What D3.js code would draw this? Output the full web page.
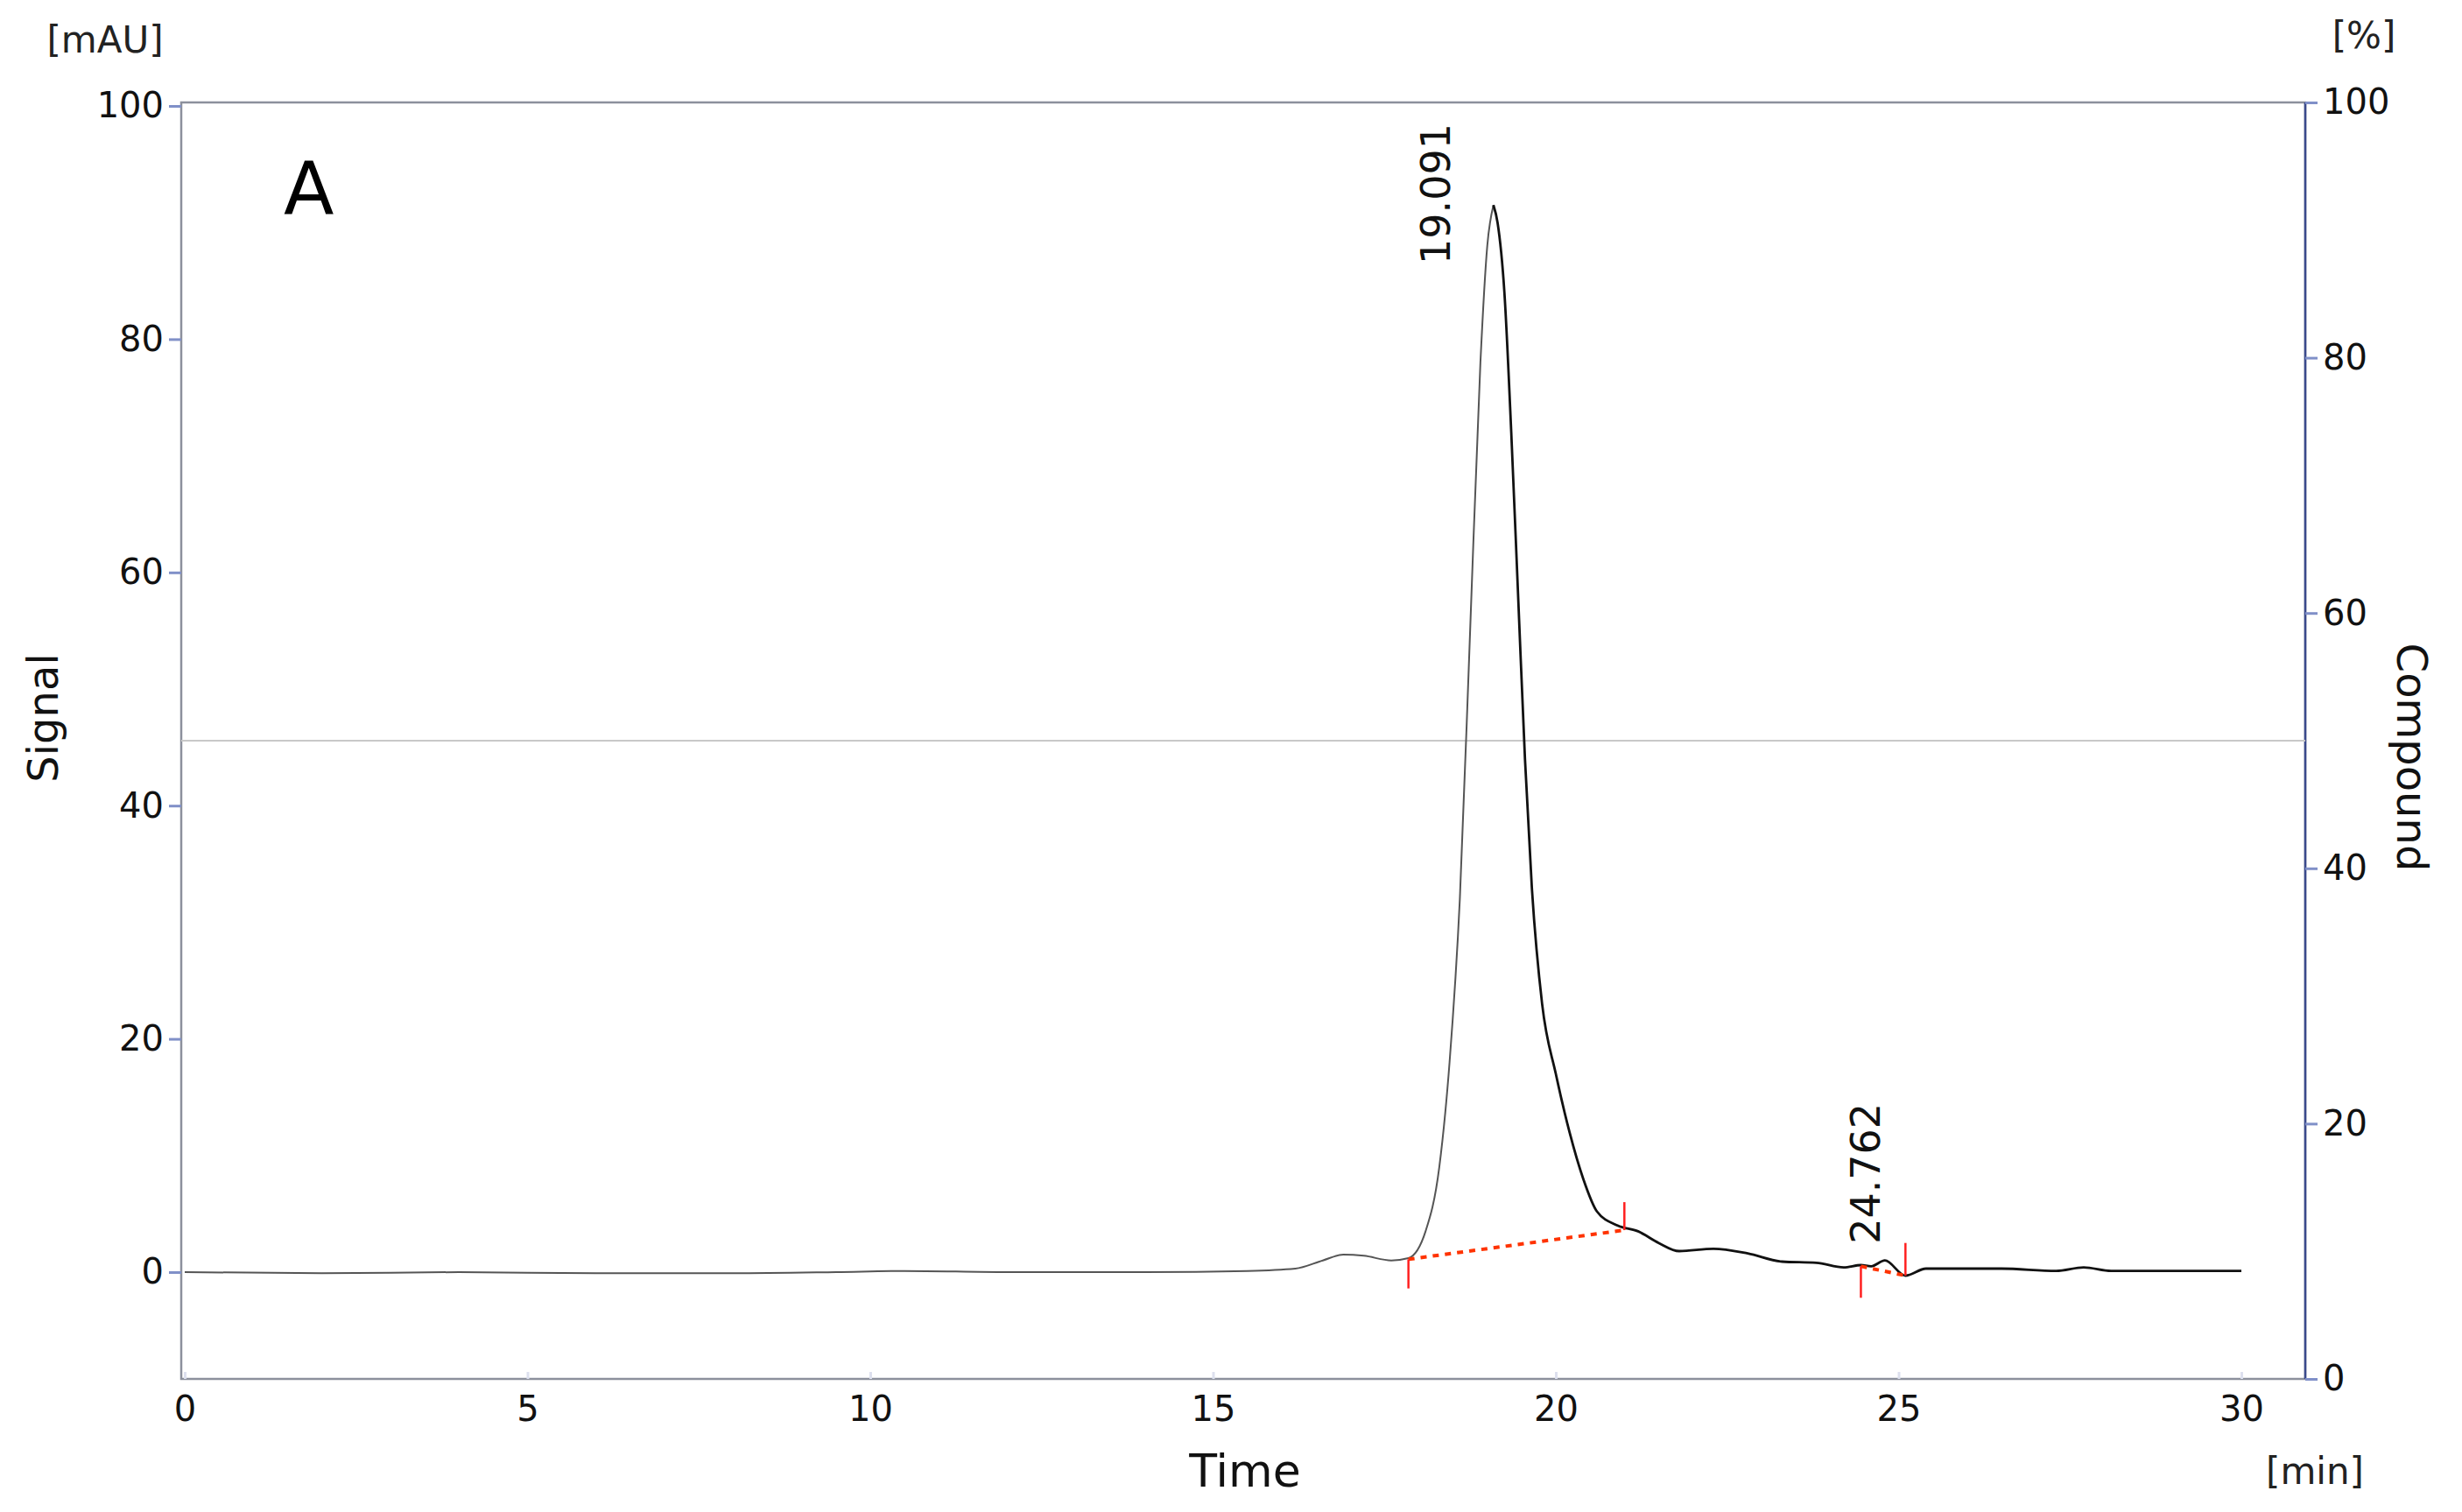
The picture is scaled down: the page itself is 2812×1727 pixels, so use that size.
<!DOCTYPE html>
<head>
  <meta charset="utf-8">
  <script src="https://d3js.org/d3.v7.min.js"></script>
  <style>
    body { margin: 0; background: #fff; }
    text { font-family: "DejaVu Sans", Verdana, sans-serif; }
  </style>
</head>
<body>
  <svg id="chart" width="2812" height="1727"></svg>
  <script>
    // chromatogram trace: time [min], signal [mAU]
    const times = [0, 2, 4, 6, 8, 9.5, 10.5, 12, 14, 15.5, 16.2, 16.6, 16.9, 17.2, 17.6, 17.85, 18.1, 18.3, 18.45, 18.6, 18.75, 18.9, 19.0, 19.09, 19.15, 19.25, 19.35, 19.45, 19.55, 19.65, 19.8, 20.0, 20.2, 20.4, 20.6, 20.9, 21.2, 21.5, 21.8, 22.3, 22.8, 23.3, 23.8, 24.2, 24.45, 24.6, 24.8, 25.1, 25.4, 26.5, 27.3, 27.7, 28.1, 30];
    const signal = [0, -0.1, 0, -0.1, -0.1, 0, 0.1, 0, 0, 0.1, 0.3, 1.0, 1.5, 1.4, 1.0, 1.2, 3.5, 9, 18, 32, 55, 78, 88, 91.5, 90, 84, 72, 58, 44, 33, 23, 17, 12, 8, 5.2, 4.0, 3.5, 2.5, 1.8, 2.0, 1.6, 0.9, 0.8, 0.4, 0.6, 0.5, 1.0, -0.3, 0.3, 0.3, 0.1, 0.4, 0.1, 0.1];
    const peakLabels = [{t: 19.091, x: 18.45, y: 98.5}, {t: 24.762, x: 24.72, y: 14.5}];
    const baselines = [[[17.85, 1.1], [21.0, 3.6]], [[24.45, 0.5], [25.1, -0.3]]];
    const marks = [[17.85, 1.1, -1.4], [21.0, 3.6, 6.0], [24.45, 0.5, -2.2], [25.1, -0.3, 2.5]];
    const xTicks = [0, 5, 10, 15, 20, 25, 30];
    const yTicks = [0, 20, 40, 60, 80, 100];
    const rTicks = [0, 20, 40, 60, 80, 100];

    const svg = d3.select("#chart");
    const L = 207, R = 2633, T = 117, B = 1575;
    const x = d3.scaleLinear().domain([0, 30]).range([211, 2560]);
    const y = d3.scaleLinear().domain([0, 100]).range([1453, 121]);
    const yR = d3.scaleLinear().domain([0, 100]).range([B, T]);

    // frame
    svg.append("rect").attr("x", L).attr("y", T).attr("width", R - L).attr("height", B - T)
      .attr("fill", "none").attr("stroke", "#8c909c").attr("stroke-width", 2.5);
    svg.append("line").attr("x1", R).attr("x2", R).attr("y1", T).attr("y2", B)
      .attr("stroke", "#3b4a8c").attr("stroke-width", 2.5);
    svg.append("line").attr("x1", L).attr("x2", R).attr("y1", yR(50)).attr("y2", yR(50))
      .attr("stroke", "#c8c8c8").attr("stroke-width", 2);

    const left = svg.append("g").attr("transform", `translate(${L},0)`)
      .call(d3.axisLeft(y).tickValues(yTicks).tickSize(14).tickPadding(6));
    const right = svg.append("g").attr("transform", `translate(${R},0)`)
      .call(d3.axisRight(yR).tickValues(rTicks).tickSize(14).tickPadding(6));
    const bottom = svg.append("g").attr("transform", `translate(0,${B})`)
      .call(d3.axisBottom(x).tickValues(xTicks).tickSize(-8).tickPadding(20));
    [left, right, bottom].forEach(g => {
      g.select(".domain").remove();
      g.selectAll("line").attr("stroke", "#8090c8").attr("stroke-width", 3);
      g.selectAll("text").attr("font-size", 40).attr("fill", "#111");
    });
    bottom.selectAll("line").attr("stroke", "#dde0ee");

    // trace
    const pts = times.map((t, i) => [t, signal[i]]);
    const ln = d3.line().x(d => x(d[0])).y(d => y(d[1])).curve(d3.curveMonotoneX);
    const iPk = times.indexOf(19.09);
    svg.append("path").attr("d", ln(pts.slice(0, iPk + 1))).attr("fill", "none")
      .attr("stroke", "#555").attr("stroke-width", 2);
    svg.append("path").attr("d", ln(pts.slice(iPk))).attr("fill", "none")
      .attr("stroke", "#111").attr("stroke-width", 2.8);

    // integration baselines
    baselines.forEach(b => svg.append("path").attr("d", d3.line().x(d => x(d[0])).y(d => y(d[1]))(b))
      .attr("stroke", "#ff3300").attr("stroke-width", 4).attr("stroke-dasharray", "7,7").attr("fill", "none"));
    marks.forEach(m => svg.append("line").attr("x1", x(m[0])).attr("x2", x(m[0]))
      .attr("y1", y(m[1])).attr("y2", y(m[2])).attr("stroke", "#ff2020").attr("stroke-width", 2.5));

    peakLabels.forEach(p => svg.append("text")
      .attr("transform", `translate(${x(p.x)},${y(p.y)}) rotate(-90)`)
      .attr("text-anchor", "end").attr("font-size", 46).attr("fill", "#111")
      .text(p.t.toFixed(3)));

    svg.append("text").attr("x", 324).attr("y", 245).attr("font-size", 84).text("A");
    svg.append("text").attr("x", 120).attr("y", 60).attr("text-anchor", "middle").attr("font-size", 42).attr("fill", "#222").text("[mAU]");
    svg.append("text").attr("x", 2700).attr("y", 55).attr("text-anchor", "middle").attr("font-size", 42).attr("fill", "#222").text("[%]");
    svg.append("text").attr("x", 2644).attr("y", 1695).attr("text-anchor", "middle").attr("font-size", 42).attr("fill", "#222").text("[min]");
    svg.append("text").attr("x", 1422).attr("y", 1698).attr("text-anchor", "middle").attr("font-size", 52).attr("fill", "#111").text("Time");
    svg.append("text").attr("transform", "translate(66,820) rotate(-90)").attr("text-anchor", "middle")
      .attr("font-size", 48).attr("fill", "#111").text("Signal");
    svg.append("text").attr("transform", "translate(2738,865) rotate(90)").attr("text-anchor", "middle")
      .attr("font-size", 48).attr("fill", "#111").text("Compound");
  </script>
</body>
